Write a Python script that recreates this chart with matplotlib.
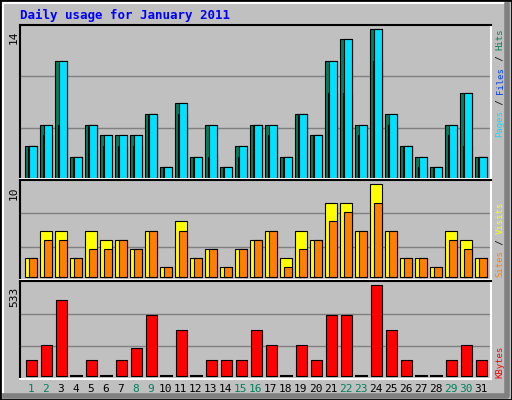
import matplotlib
matplotlib.use("Agg")
import matplotlib.pyplot as plt
from matplotlib.patches import Rectangle

# data
days = list(range(1, 32))
hits = [3, 5, 11, 2, 5, 4, 4, 4, 6, 1, 7, 2, 5, 1, 3, 5,
        5, 2, 6, 4, 11, 13, 5, 14, 6, 3, 2, 1, 5, 8, 2]
files = [3, 5, 11, 2, 5, 4, 4, 4, 6, 1, 7, 2, 5, 1, 3, 5,
         5, 2, 6, 4, 11, 13, 5, 14, 6, 3, 2, 1, 5, 8, 2]
pages = [3, 4, 5, 2, 5, 3, 3, 3, 6, 1, 6, 2, 2, 1, 2, 5,
         4, 2, 6, 4, 8, 8, 4, 11, 5, 3, 1, 1, 4, 3, 2]
visits = [2, 5, 5, 2, 5, 4, 4, 3, 5, 1, 6, 2, 3, 1, 3, 4,
          5, 2, 5, 4, 8, 8, 5, 10, 5, 2, 2, 1, 5, 4, 2]
sites = [2, 4, 4, 2, 3, 3, 4, 3, 5, 1, 5, 2, 3, 1, 3, 4,
         5, 1, 3, 4, 6, 7, 5, 8, 5, 2, 2, 1, 4, 3, 2]
kbytes = [95, 183, 447, 0, 95, 0, 95, 165, 358, 0, 270, 0, 95, 95, 95, 270,
          183, 0, 183, 95, 358, 358, 0, 533, 270, 95, 0, 0, 95, 183, 95]
weekend = [1, 2, 8, 9, 15, 16, 22, 23, 29, 30]

W, H = 512, 400
BG = "#C0C0C0"
C_HITS, C_FILES, C_PAGES = "#00805C", "#00E0FF", "#0040FF"
C_VISITS, C_SITES, C_KB = "#FFFF00", "#FF8000", "#FF0000"
MONO = "DejaVu Sans Mono"

fig = plt.figure(figsize=(W / 100, H / 100), dpi=100, facecolor=BG)

# outer bevel
fig.patches.append(Rectangle((0, 0), 1, 1, transform=fig.transFigure,
                             fill=False, ec="black", lw=2))
fig.lines.append(plt.Line2D([3 / W, 3 / W, 1 - 8 / W], [8 / H, 1 - 3 / H, 1 - 3 / H],
                            transform=fig.transFigure, color="white", lw=1.5))
fig.lines.append(plt.Line2D([1 - 5 / W, 1 - 5 / W, 5 / W], [1 - 5 / H, 4 / H, 4 / H],
                            transform=fig.transFigure, color="#808080", lw=4))


def panel(top, bottom, ymin, ymax):
    ax = fig.add_axes([20 / W, 1 - bottom / H, 471 / W, (bottom - top) / H])
    ax.set_facecolor(BG)
    ax.set_xlim(0, 31.4)
    ax.set_ylim(ymin, ymax)
    ax.set_xticks([])
    ax.set_yticks([])
    for f in (1 / 3, 2 / 3):
        ax.axhline(ymin + f * (ymax - ymin), color="#808080", lw=1, zorder=0)
    ax.spines["top"].set_color("black")
    ax.spines["left"].set_color("black")
    ax.spines["bottom"].set_color("white")
    ax.spines["right"].set_color("white")
    for s in ax.spines.values():
        s.set_linewidth(1.5)
    return ax


ax1 = panel(25, 179, -0.1, 14.35)
ax2 = panel(180, 280, -0.36, 10.47)
ax3 = panel(281, 379, -19, 558)

bw = 0.78
for i, d in enumerate(days):
    x0 = (d - 1) + 0.333
    ax1.bar(x0, hits[i], bw, align="edge", color=C_HITS, ec="black", lw=0.8)
    ax1.bar(x0 + 0.2, pages[i], bw - 0.2, align="edge", color=C_PAGES, ec="black", lw=0.8)
    ax1.bar(x0 + 0.29, files[i], bw - 0.29, align="edge", color=C_FILES, ec="black", lw=0.8)
    ax2.bar(x0, visits[i], bw, align="edge", color=C_VISITS, ec="black", lw=0.8)
    ax2.bar(x0 + 0.29, sites[i], bw - 0.29, align="edge", color=C_SITES, ec="black", lw=0.8)
    if kbytes[i] > 0:
        ax3.bar(x0 + 0.07, kbytes[i], bw - 0.07, align="edge", color=C_KB, ec="black", lw=0.8)
    else:
        ax3.plot([x0 + 0.07, x0 + bw], [0, 0], color="black", lw=1.5)
    fig.text((20 + (x0 + bw / 2) * 15) / W, 1 - 389 / H, str(d),
             ha="center", va="center", fontsize=8, family=MONO,
             color=C_HITS if d in weekend else "black")

fig.text(20 / W, 1 - 15 / H, "Daily usage for January 2011", fontsize=9,
         family=MONO, weight="bold", color="#0000FF", va="center")

# left scale labels
for y, s in [(31, "14"), (186, "10"), (287, "533")]:
    fig.text(14 / W, 1 - y / H, s, rotation=90, fontsize=8, family=MONO,
             ha="center", va="top")

# right legend labels, built bottom to top
FS = 6.5
CW = 0.602 * FS * 100 / 72


def side(ybottom, parts):
    y = ybottom
    for txt, col in parts:
        fig.text(500 / W, 1 - y / H, txt, rotation=90, fontsize=FS, family=MONO,
                 color=col, ha="center", va="bottom")
        y -= CW * len(txt)


side(137, [("Pages", C_FILES), (" / ", "black"), ("Files", C_PAGES),
           (" / ", "black"), ("Hits", C_HITS)])
side(277, [("Sites", C_SITES), (" / ", "black"), ("Visits", C_VISITS)])
side(378, [("KBytes", C_KB)])

fig.savefig("out.png", dpi=100, facecolor=BG)
